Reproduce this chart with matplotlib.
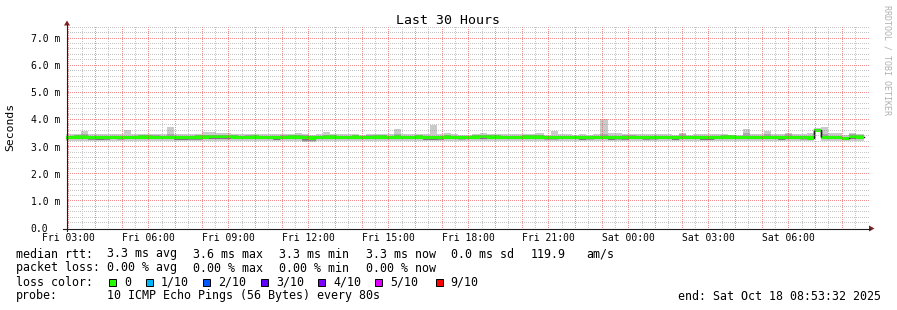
import numpy as np
import matplotlib.pyplot as plt
from matplotlib.patches import Rectangle, Polygon

plt.rcParams['font.family'] = 'DejaVu Sans Mono'

# ---------------------------------------------------------------
# data (ms), one value per 16 minute consolidated bin
# ---------------------------------------------------------------
GRAPH_START = 2 * 60 + 53 + 32 / 60.0   # Fri 02:53:32, minutes after Fri 00:00
GRAPH_HOURS = 30
FIRST_BIN = 2 * 60 + 40                 # first (partial) bin starts Fri 02:40
STEP = 16                               # minutes per bin

p_max = [3.45, 3.46, 3.45, 3.59, 3.46, 3.46, 3.45, 3.46, 3.46, 3.61,
         3.46, 3.46, 3.48, 3.48, 3.46, 3.73, 3.45, 3.45, 3.45, 3.46,
         3.53, 3.52, 3.50, 3.51, 3.45, 3.46, 3.45, 3.47, 3.47, 3.47,
         3.47, 3.46, 3.45, 3.51, 3.47, 3.43, 3.47, 3.53, 3.45, 3.45,
         3.45, 3.47, 3.43, 3.47, 3.47, 3.45, 3.45, 3.66, 3.45, 3.47,
         3.45, 3.45, 3.81, 3.45, 3.51, 3.45, 3.42, 3.43, 3.47, 3.51,
         3.47, 3.47, 3.47, 3.47, 3.45, 3.45, 3.47, 3.51, 3.43, 3.59,
         3.47, 3.47, 3.43, 3.47, 3.43, 3.47, 4.00, 3.49, 3.49, 3.45,
         3.45, 3.45, 3.45, 3.47, 3.47, 3.45, 3.43, 3.51, 3.43, 3.45,
         3.45, 3.45, 3.47, 3.47, 3.43, 3.43, 3.66, 3.45, 3.45, 3.59,
         3.45, 3.47, 3.51, 3.45, 3.45, 3.51, 3.68, 3.73, 3.51, 3.49,
         3.41, 3.51, 3.47]

p_hi = [3.39, 3.39, 3.43, 3.45, 3.39, 3.39, 3.39, 3.39, 3.39, 3.39,
        3.39, 3.39, 3.43, 3.43, 3.39, 3.46, 3.39, 3.39, 3.39, 3.39,
        3.39, 3.39, 3.39, 3.43, 3.43, 3.39, 3.43, 3.39, 3.39, 3.39,
        3.39, 3.43, 3.39, 3.39, 3.43, 3.39, 3.39, 3.43, 3.43, 3.39,
        3.39, 3.39, 3.39, 3.43, 3.43, 3.39, 3.39, 3.46, 3.39, 3.39,
        3.39, 3.39, 3.39, 3.39, 3.39, 3.39, 3.39, 3.39, 3.39, 3.39,
        3.39, 3.43, 3.39, 3.39, 3.39, 3.39, 3.39, 3.39, 3.39, 3.39,
        3.39, 3.39, 3.39, 3.39, 3.39, 3.39, 3.47, 3.39, 3.39, 3.43,
        3.43, 3.39, 3.39, 3.39, 3.39, 3.39, 3.39, 3.45, 3.39, 3.39,
        3.39, 3.39, 3.39, 3.39, 3.39, 3.39, 3.50, 3.39, 3.39, 3.45,
        3.39, 3.39, 3.47, 3.39, 3.39, 3.39, 3.65, 3.48, 3.39, 3.39,
        3.37, 3.45, 3.39]

p_med = [3.33, 3.34, 3.35, 3.35, 3.34, 3.33, 3.34, 3.34, 3.33, 3.34,
         3.34, 3.35, 3.35, 3.34, 3.34, 3.34, 3.33, 3.33, 3.34, 3.35,
         3.35, 3.36, 3.36, 3.36, 3.35, 3.34, 3.34, 3.35, 3.34, 3.34,
         3.33, 3.34, 3.35, 3.35, 3.33, 3.32, 3.34, 3.35, 3.35, 3.34,
         3.34, 3.35, 3.34, 3.34, 3.35, 3.35, 3.34, 3.35, 3.34, 3.34,
         3.35, 3.33, 3.33, 3.34, 3.35, 3.34, 3.33, 3.34, 3.35, 3.36,
         3.35, 3.35, 3.34, 3.34, 3.34, 3.35, 3.35, 3.35, 3.33, 3.33,
         3.34, 3.34, 3.34, 3.33, 3.33, 3.34, 3.34, 3.33, 3.33, 3.34,
         3.34, 3.34, 3.34, 3.33, 3.34, 3.34, 3.33, 3.34, 3.34, 3.34,
         3.33, 3.33, 3.34, 3.35, 3.35, 3.34, 3.34, 3.34, 3.34, 3.34,
         3.34, 3.33, 3.34, 3.34, 3.33, 3.32, 3.60, 3.34, 3.34, 3.34,
         3.31, 3.37, 3.35]

p_lo = [3.29, 3.29, 3.29, 3.29, 3.23, 3.23, 3.23, 3.29, 3.29, 3.29,
        3.29, 3.29, 3.29, 3.29, 3.29, 3.29, 3.23, 3.23, 3.23, 3.23,
        3.29, 3.29, 3.29, 3.29, 3.29, 3.29, 3.29, 3.29, 3.29, 3.29,
        3.24, 3.29, 3.29, 3.29, 3.19, 3.19, 3.29, 3.29, 3.29, 3.29,
        3.29, 3.29, 3.29, 3.29, 3.29, 3.29, 3.29, 3.29, 3.29, 3.29,
        3.29, 3.23, 3.23, 3.23, 3.29, 3.29, 3.29, 3.29, 3.29, 3.29,
        3.29, 3.29, 3.29, 3.29, 3.29, 3.29, 3.29, 3.29, 3.29, 3.29,
        3.29, 3.29, 3.29, 3.23, 3.29, 3.29, 3.29, 3.23, 3.29, 3.23,
        3.29, 3.29, 3.24, 3.29, 3.29, 3.29, 3.23, 3.29, 3.29, 3.29,
        3.23, 3.23, 3.29, 3.29, 3.29, 3.29, 3.29, 3.29, 3.29, 3.29,
        3.29, 3.24, 3.29, 3.29, 3.29, 3.29, 3.57, 3.29, 3.29, 3.29,
        3.27, 3.29, 3.29]

p_min = [3.21, 3.21, 3.21, 3.21, 3.21, 3.21, 3.21, 3.21, 3.21, 3.21,
         3.21, 3.21, 3.21, 3.21, 3.21, 3.21, 3.21, 3.21, 3.21, 3.21,
         3.21, 3.21, 3.21, 3.21, 3.21, 3.21, 3.21, 3.21, 3.21, 3.21,
         3.21, 3.21, 3.21, 3.21, 3.16, 3.16, 3.21, 3.21, 3.21, 3.21,
         3.21, 3.21, 3.21, 3.21, 3.21, 3.21, 3.21, 3.21, 3.21, 3.21,
         3.21, 3.21, 3.21, 3.21, 3.21, 3.21, 3.21, 3.21, 3.21, 3.21,
         3.21, 3.21, 3.21, 3.21, 3.21, 3.21, 3.21, 3.21, 3.21, 3.21,
         3.21, 3.21, 3.21, 3.21, 3.21, 3.21, 3.21, 3.21, 3.21, 3.21,
         3.21, 3.21, 3.21, 3.21, 3.21, 3.21, 3.21, 3.21, 3.21, 3.21,
         3.21, 3.21, 3.21, 3.21, 3.21, 3.21, 3.21, 3.21, 3.21, 3.21,
         3.21, 3.21, 3.21, 3.21, 3.21, 3.21, 3.56, 3.21, 3.21, 3.21,
         3.21, 3.21, 3.21]

# x labels every 3 hours (hours after Fri 00:00)
label_hours = [3, 6, 9, 12, 15, 18, 21, 24, 27, 30]
label_text = ['Fri 03:00', 'Fri 06:00', 'Fri 09:00', 'Fri 12:00', 'Fri 15:00',
              'Fri 18:00', 'Fri 21:00', 'Sat 00:00', 'Sat 03:00', 'Sat 06:00']
y_ticks = [0, 1, 2, 3, 4, 5, 6, 7]
y_text = ['0.0', '1.0 m', '2.0 m', '3.0 m', '4.0 m', '5.0 m', '6.0 m', '7.0 m']

loss_labels = ['0', '1/10', '2/10', '3/10', '4/10', '5/10', '9/10']
loss_colors = ['#26ff00', '#00b8ff', '#0059ff', '#5e00ff', '#7e00ff', '#dd00ff', '#ff0000']

stats_rtt = ['3.3 ms avg', '3.6 ms max', '3.3 ms min', '3.3 ms now', '0.0 ms sd', '119.9', 'am/s']
stats_loss = ['0.00 % avg', '0.00 % max', '0.00 % min', '0.00 % now']
probe = '10 ICMP Echo Pings (56 Bytes) every 80s'
end_text = 'end: Sat Oct 18 08:53:32 2025'

# ---------------------------------------------------------------
W, H = 897, 310
L, R, T, B = 66, 866, 26, 228
PX_MS = 27.14                  # pixels per ms
YMAX = (B - T) / PX_MS
PX_H = (R - L) / GRAPH_HOURS   # pixels per hour
BAND = 0.06                    # half thickness of the median bar

GRID = (0.56, 0.56, 0.56, 0.5)
MGRID = (0.92, 0.2, 0.2, 0.55)
AXIS = '#1f1f1f'
ARROW = '#801f1f'

fig = plt.figure(figsize=(W / 100, H / 100), dpi=100)
fig.patch.set_facecolor('white')
ax = fig.add_axes([L / W, 1 - B / H, (R - L) / W, (B - T) / H])
ax.set_xlim(0, GRAPH_HOURS)
ax.set_ylim(0, YMAX)
for s in ax.spines.values():
    s.set_visible(False)

n = len(p_med)
edges = (FIRST_BIN + STEP * np.arange(n + 1) - GRAPH_START) / 60.0


def ext(a):
    a = np.asarray(a, dtype=float)
    return np.append(a, a[-1])


# smoke
ax.fill_between(edges, ext(p_min), ext(p_max), step='post', color='#cacaca', lw=0, zorder=1.0)
ax.fill_between(edges, ext(p_med), ext(p_hi), step='post', color='#a8a8a8', lw=0, zorder=1.1)
ax.fill_between(edges, ext(p_lo), ext(p_med), step='post', color='#909090', lw=0, zorder=1.2)
# median
med = ext(p_med)
ax.step(edges, med, where='post', color='#202020', lw=1, zorder=1.3)
ax.fill_between(edges, med - BAND, med + BAND, step='post', color='#26ff00', lw=0, zorder=1.4)
jumps = np.abs(np.diff(p_med)) > 2 * BAND
ax.vlines(edges[1:-1][jumps], np.array(p_med[:-1])[jumps], np.array(p_med[1:])[jumps],
          color='#202020', lw=1, zorder=1.5)

# dotted rrdtool grid on top of everything: unscaled pixel image placed on the figure
hour_grid = [(h * 60 - GRAPH_START) / 60.0 for h in range(3, 33)]
half_grid = [(h * 60 + 30 - GRAPH_START) / 60.0 for h in range(2, 33)]
half_grid = [t for t in half_grid if 0 < t < GRAPH_HOURS]
gw, gh = R - L + 3, B - T
grid_img = np.zeros((gh, gw, 4))


def put_h(v, rgba):
    r = int(round(B - v * PX_MS - 0.5)) - T
    if 0 <= r < gh:
        grid_img[r, 2::2] = rgba


def put_v(t, rgba):
    c = int(np.floor(t * PX_H))
    if 0 <= c < gw:
        grid_img[(gh - 1) % 2::2, c] = rgba


for t in half_grid:
    put_v(t, GRID)
for k in range(1, int(YMAX / 0.2) + 1):
    if k % 5:
        put_h(k * 0.2, GRID)
for t in hour_grid:
    put_v(t, MGRID)
for v in y_ticks[1:]:
    put_h(v, MGRID)

fig.figimage(grid_img, xo=L, yo=H - B, origin='upper', zorder=5)

ax.set_xticks(hour_grid)
ax.set_xticklabels([label_text[label_hours.index(h)] if h in label_hours else ''
                    for h in range(3, 33)])
ax.set_yticks(y_ticks)
ax.set_yticklabels(y_text)
ax.tick_params(which='both', length=0)
ax.tick_params(axis='x', pad=3.4, labelsize=7)
ax.tick_params(axis='y', pad=25.4, labelsize=7)
for lab in ax.get_yticklabels():
    lab.set_horizontalalignment('left')

# overlay in pixel coordinates for axes lines, arrows and legend
ov = fig.add_axes([0, 0, 1, 1])
ov.set_xlim(0, W)
ov.set_ylim(H, 0)
ov.axis('off')
ov.patch.set_alpha(0)

ov.plot([67, 67], [230.5, 25], color=AXIS, lw=0.8)
ov.plot([63, 869.5], [228.5, 228.5], color=AXIS, lw=0.8)
ov.add_patch(Polygon([(64, 25.5), (70, 25.5), (67, 20.5)], closed=True, color=ARROW, lw=0))
ov.add_patch(Polygon([(869, 225.5), (869, 231.5), (874.5, 228.5)], closed=True, color=ARROW, lw=0))

ov.text(448, 23.5, 'Last 30 Hours', ha='center', va='baseline', fontsize=9.5)
ov.text(10.5, 127, 'Seconds', rotation=90, ha='center', va='center', fontsize=8.2)
ov.text(887, 60, 'RRDTOOL / TOBI OETIKER', rotation=270, ha='center', va='center',
        fontsize=6, color='#b0b0b0')

FS = 8.4
x_col = [107, 193.3, 279.3, 365.7, 450.7, 530.7, 586.7]
ov.text(16, 257.5, 'median rtt:', fontsize=FS, va='baseline')
for x, s in zip(x_col, stats_rtt):
    ov.text(x, 257.5, s, fontsize=FS, va='baseline')
ov.text(16, 271.5, 'packet loss:', fontsize=FS, va='baseline')
for x, s in zip(x_col, stats_loss):
    ov.text(x, 271.5, s, fontsize=FS, va='baseline')

ov.text(16, 285.5, 'loss color:', fontsize=FS, va='baseline')
box_x = [108.7, 146, 203, 260.7, 318, 375.3, 436]
txt_x = [124, 160.7, 218.3, 276, 333.3, 390.7, 450]
for bx, tx, lab, col in zip(box_x, txt_x, loss_labels, loss_colors):
    ov.add_patch(Rectangle((bx, 278.5), 7, 7, facecolor=col, edgecolor='black', lw=0.7))
    ov.text(tx, 285.5, lab, fontsize=FS, va='baseline')

ov.text(16, 299.5, 'probe:', fontsize=FS, va='baseline')
ov.text(107, 299.5, probe, fontsize=FS, va='baseline')
ov.text(678.3, 299.5, end_text, fontsize=FS, va='baseline')

fig.savefig('out.png', dpi=100, facecolor='white')
